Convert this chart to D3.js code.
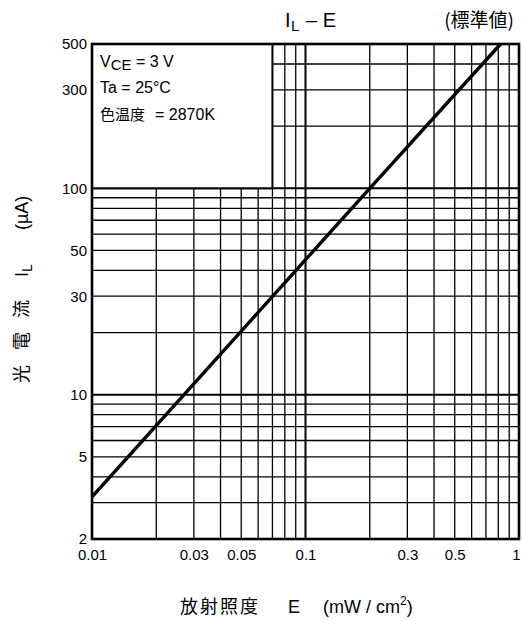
<!DOCTYPE html>
<html>
<head>
<meta charset="utf-8">
<script src="https://cdn.jsdelivr.net/npm/d3@7"></script>
<style>
  body { margin: 0; background: #fff; }
  text { font-family: "Liberation Sans", Arial, sans-serif; fill: #000; }
  .cjk { font-family: "Noto Sans CJK JP", "Liberation Sans", sans-serif; }
</style>
</head>
<body>
<svg id="chart" width="522" height="621"></svg>
<script>
// irradiance E (mW/cm2) vs photocurrent IL (uA)
const irradiance = [0.01, 0.027, 0.2, 0.82];
const photoCurrent = [3.2, 10, 100, 500];

const xTicks = [0.01, 0.03, 0.05, 0.1, 0.3, 0.5, 1];
const yTicks = [2, 5, 10, 30, 50, 100, 300, 500];
const xGrid = [0.02, 0.03, 0.04, 0.05, 0.06, 0.07, 0.08, 0.09, 0.1,
               0.2, 0.3, 0.4, 0.5, 0.6, 0.7, 0.8, 0.9];
const yGrid = [3, 4, 5, 6, 7, 8, 9, 10, 20, 30, 40, 50, 60, 70, 80, 90, 100,
               200, 300, 400];
const majorX = [0.1];
const majorY = [10, 100];

const svg = d3.select("#chart");
const margin = {top: 44, right: 3, bottom: 82, left: 92};
const width = 522 - margin.left - margin.right;
const height = 621 - margin.top - margin.bottom;
const g = svg.append("g").attr("transform", `translate(${margin.left},${margin.top})`);

const x = d3.scaleLog().domain([0.01, 1]).range([0, width]);
const y = d3.scaleLog().domain([2, 500]).range([height, 0]);

// grid
g.append("g").selectAll("line").data(xGrid).join("line")
  .attr("x1", d => x(d)).attr("x2", d => x(d))
  .attr("y1", 0).attr("y2", height)
  .attr("stroke", "#000")
  .attr("stroke-width", d => majorX.includes(d) ? 2 : 1.3);

g.append("g").selectAll("line").data(yGrid).join("line")
  .attr("y1", d => y(d)).attr("y2", d => y(d))
  .attr("x1", 0).attr("x2", width)
  .attr("stroke", "#000")
  .attr("stroke-width", d => majorY.includes(d) ? 2 : 1.3);

// legend box covers grid in upper-left corner
g.append("rect")
  .attr("x", x(0.01)).attr("y", y(500))
  .attr("width", x(0.07) - x(0.01)).attr("height", y(100) - y(500))
  .attr("fill", "#fff").attr("stroke", "#000").attr("stroke-width", 2);

const leg = g.append("g").attr("font-size", 16);
const l1 = leg.append("text").attr("x", 8).attr("y", 23);
l1.append("tspan").text("V");
l1.append("tspan").attr("dy", 3).attr("font-size", 15).text("CE");
l1.append("tspan").attr("dy", -3).text(" = 3 V");
leg.append("text").attr("x", 8).attr("y", 49).text("Ta = 25°C");
const l3 = leg.append("text").attr("x", 8).attr("y", 76);
l3.append("tspan").attr("class", "cjk").attr("font-size", 15).text("色温度");
l3.append("tspan").attr("dx", 10).text("= 2870K");

// frame
g.append("rect").attr("width", width).attr("height", height)
  .attr("fill", "none").attr("stroke", "#000").attr("stroke-width", 2.6);

// curve
const line = d3.line().x((d, i) => x(irradiance[i])).y(d => y(d));
g.append("path").datum(photoCurrent)
  .attr("d", line).attr("fill", "none")
  .attr("stroke", "#000").attr("stroke-width", 3.4);

// axes labels
const xAxis = g.append("g").attr("transform", `translate(0,${height})`)
  .call(d3.axisBottom(x).tickValues(xTicks).tickSize(0).tickPadding(10)
    .tickFormat(d => String(d)));
xAxis.select(".domain").remove();
xAxis.selectAll("text").attr("font-size", 15).attr("font-family", null)
  .attr("dx", d => d === 1 ? -3 : 0);

const yAxis = g.append("g")
  .call(d3.axisLeft(y).tickValues(yTicks).tickSize(0).tickPadding(5)
    .tickFormat(d => String(d)));
yAxis.select(".domain").remove();
yAxis.selectAll("text").attr("font-size", 15).attr("font-family", null);

// title
const t = svg.append("text").attr("y", 27).attr("font-size", 20);
t.append("tspan").attr("x", 285).text("I");
t.append("tspan").attr("x", 291).attr("dy", 4).attr("font-size", 15).text("L");
t.append("tspan").attr("x", 306).attr("dy", -4).text("– E");
svg.append("text").attr("x", 514).attr("y", 27).attr("font-size", 19)
  .attr("text-anchor", "end").attr("class", "cjk").text("(標準値)");

// x title
const xt = svg.append("text").attr("y", 613).attr("font-size", 18);
xt.append("tspan").attr("x", 180).attr("class", "cjk")
  .attr("letter-spacing", 2).text("放射照度");
xt.append("tspan").attr("x", 288).text("E");
xt.append("tspan").attr("x", 323).text("(mW / cm");
xt.append("tspan").attr("dy", -8).attr("font-size", 12).text("2");
xt.append("tspan").attr("dy", 8).text(")");

// y title
const yt = svg.append("text").attr("transform", "translate(28,383) rotate(-90)")
  .attr("font-size", 18);
yt.append("tspan").attr("x", 0).attr("class", "cjk").text("光");
yt.append("tspan").attr("x", 33).attr("class", "cjk").text("電");
yt.append("tspan").attr("x", 65).attr("class", "cjk").text("流");
yt.append("tspan").attr("x", 106).text("I");
yt.append("tspan").attr("dy", 4).attr("font-size", 14).text("L");
yt.append("tspan").attr("x", 153).attr("dy", -4).text("(µA)");
</script>
</body>
</html>
